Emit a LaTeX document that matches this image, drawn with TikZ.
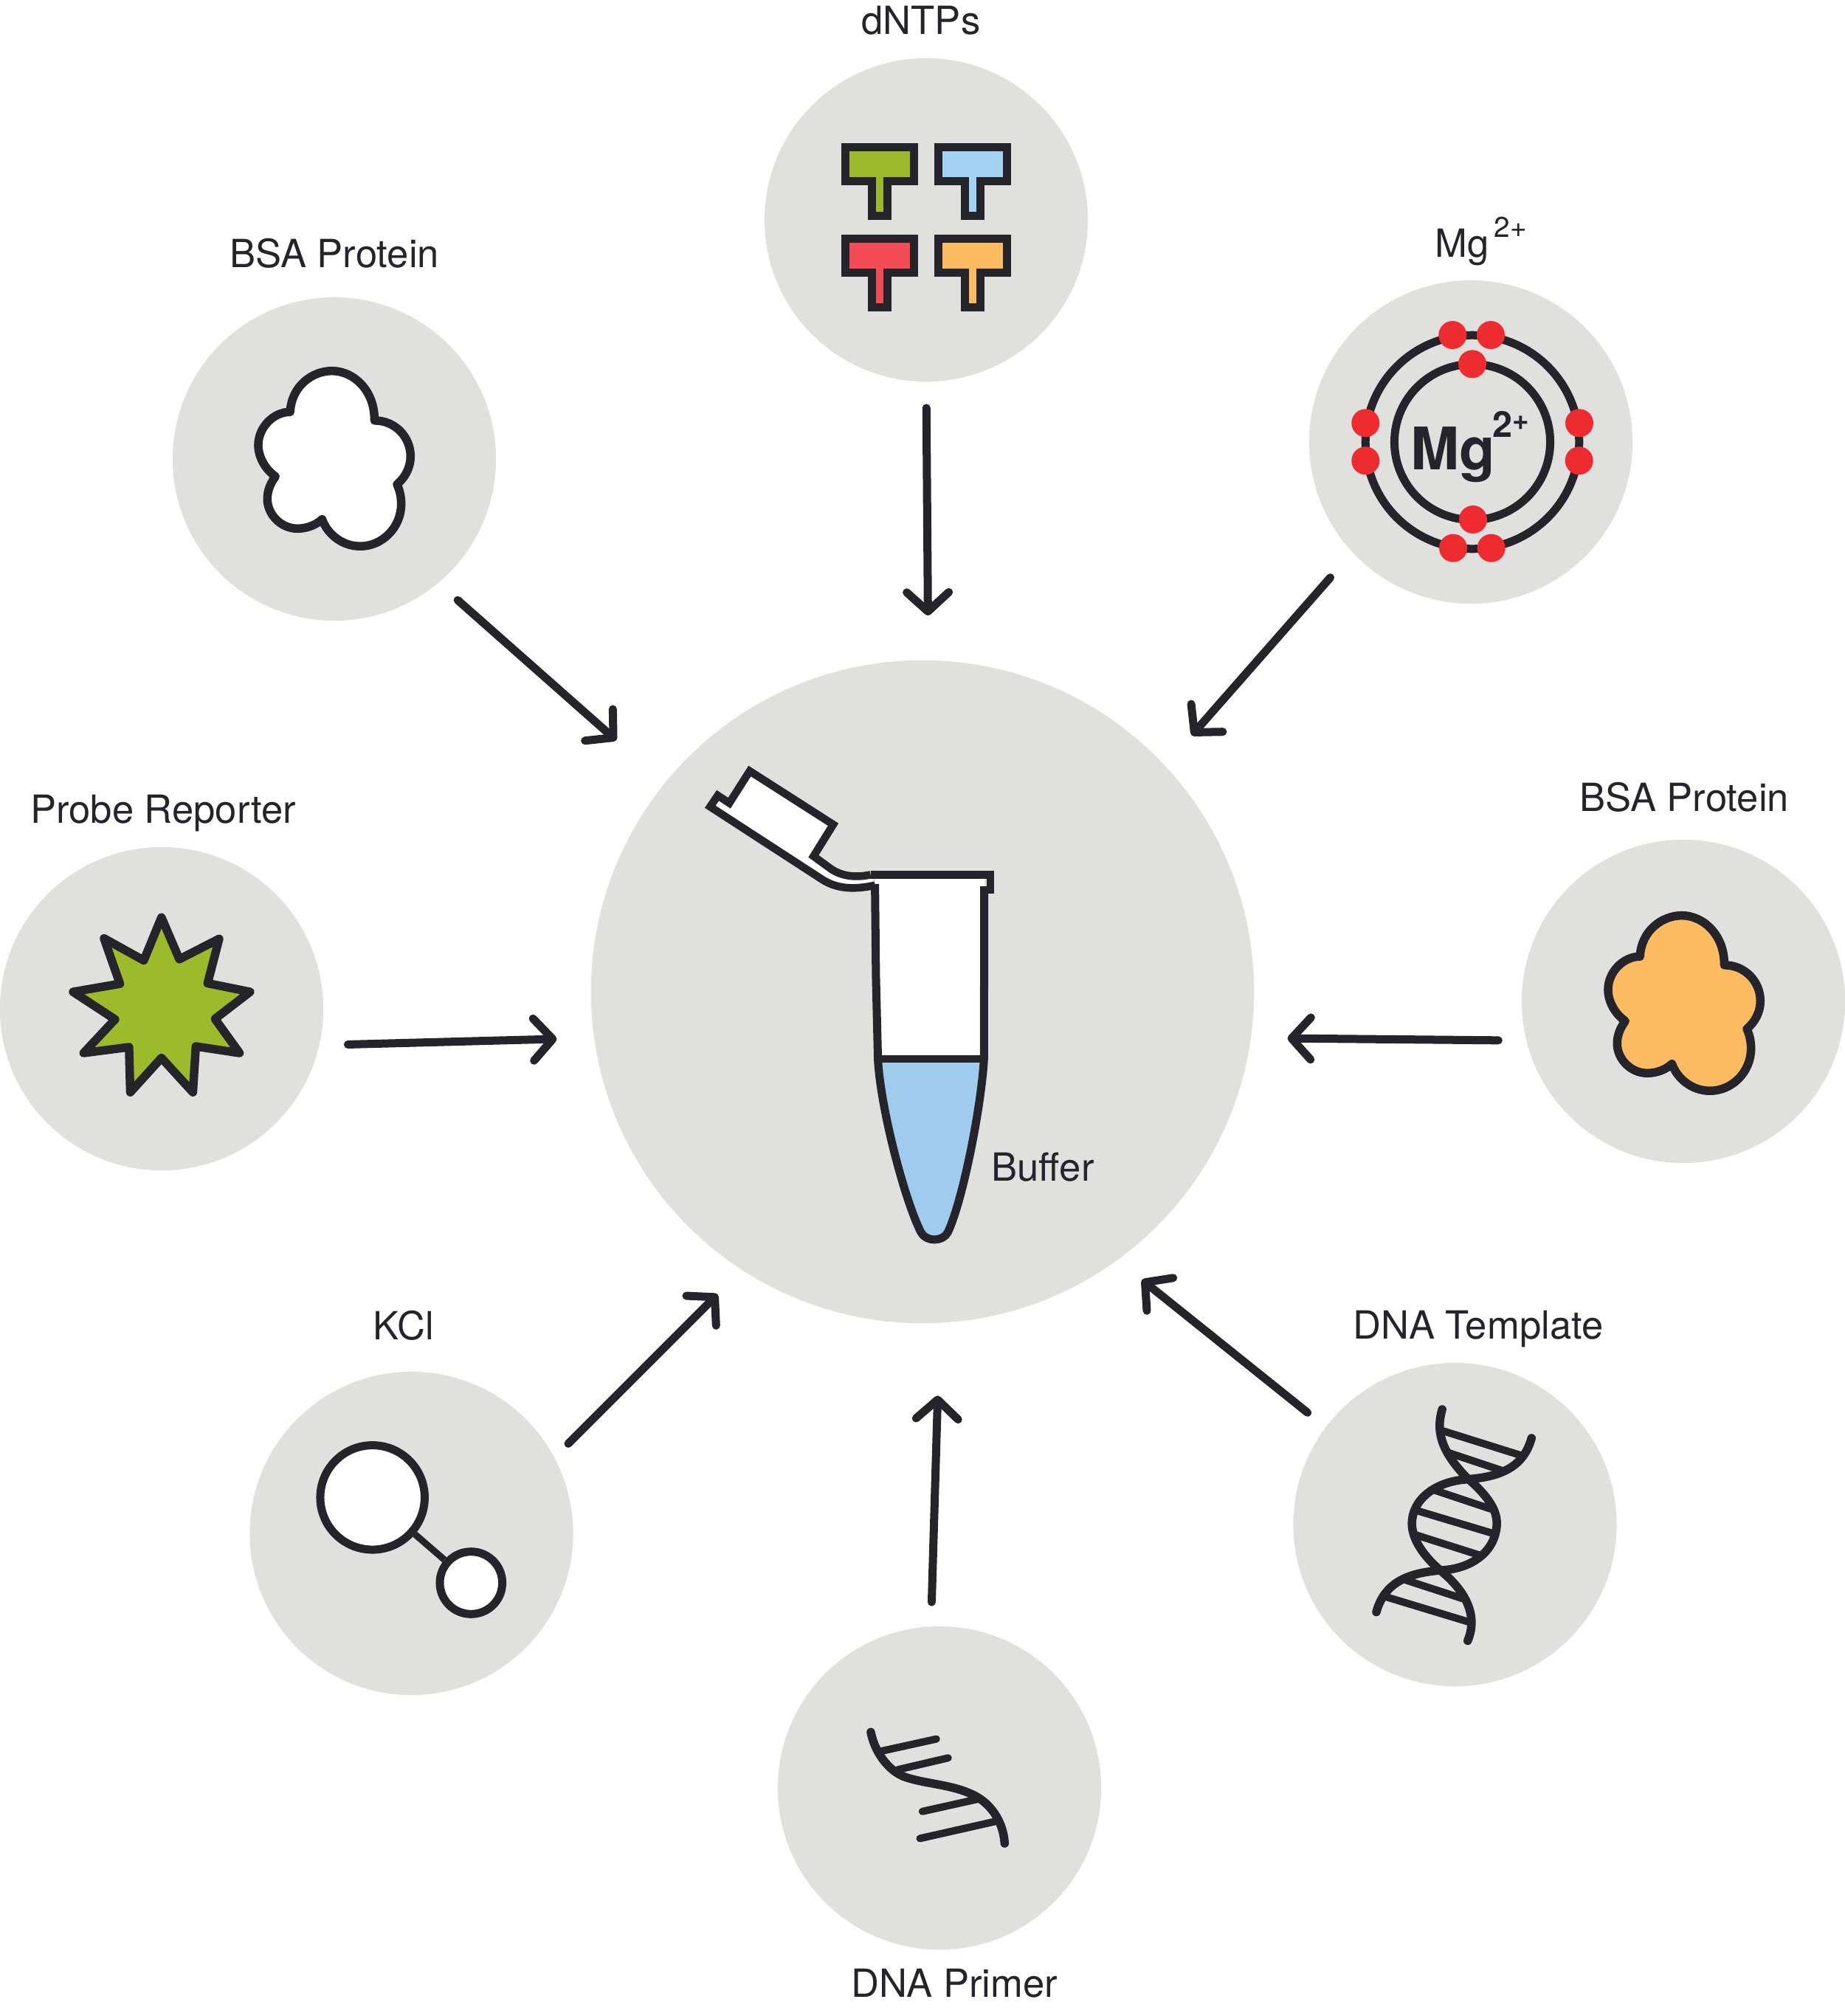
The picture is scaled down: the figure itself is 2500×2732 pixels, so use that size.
\documentclass[tikz,border=0pt]{standalone}
\usepackage{fontspec}
\setmainfont{TeX Gyre Heros}
\usetikzlibrary{arrows.meta}

\definecolor{discgray}{HTML}{E0E0DE}
\definecolor{ink}{HTML}{25242A}
\definecolor{leaf}{HTML}{9BBB2B}
\definecolor{sky}{HTML}{A2D3F2}
\definecolor{rose}{HTML}{F34C55}
\definecolor{amber}{HTML}{FDBB62}
\definecolor{spark}{HTML}{EE2B2F}
\definecolor{liquid}{HTML}{9FCBEC}

\begin{document}
\begin{tikzpicture}[
  x=0.01cm, y=-0.01cm,
  disc/.style={circle, fill=discgray, minimum size=4.38cm, inner sep=0pt},
  bigdisc/.style={circle, fill=discgray, minimum size=8.98cm, inner sep=0pt},
  lbl/.style={font=\fontsize{14.95}{18}\selectfont, text=ink, inner sep=0pt},
  sketch/.style={draw=ink, line width=0.115cm, line join=round, line cap=round},
  rung/.style={draw=ink, line width=0.1cm, line cap=round},
  feed/.style={draw=ink, line width=0.11cm, line cap=round,
               -{Straight Barb[round, length=0.26cm, width=0.57cm]}},
  crop/.style={x=0.003333cm, y=-0.003333cm},
  tubecrop/.style={x=0.003333cm, y=-0.004464cm}]

  \useasboundingbox (0,0) rectangle (2500,2732);

  % Discs
  \node[bigdisc] (tube) at (1250,1344) {};
  \node[disc] (dntps) at (1255,298) {};
  \node[disc] (bsaL) at (453,622) {};
  \node[disc] (mgion) at (1993,599) {};
  \node[disc] (probe) at (219,1367) {};
  \node[disc] (bsaR) at (2281,1357) {};
  \node[disc] (kcl) at (557.5,2078) {};
  \node[disc] (template) at (1971.5,2066) {};
  \node[disc] (primer) at (1273,2423) {};

  % Labels
  \node[lbl] (dntpslbl) at (1248,28) {dNTPs};
  \node[lbl] (bsaLlbl) at (453,343) {BSA Protein};
  \node[lbl, anchor=base west] (mglbl) at (1944,348) {Mg};
  \node[lbl, anchor=base west, font=\fontsize{11}{12}\selectfont] (mgsuplbl) at (2024,321) {2+};
  \node[lbl] (probelbl) at (221,1102) {Probe Reporter};
  \node[lbl] (bsaRlbl) at (2282,1080) {BSA Protein};
  \node[lbl] (bufferlbl) at (1413,1582) {Buffer};
  \node[lbl] (kcllbl) at (547,1796) {KCl};
  \node[lbl] (templatelbl) at (2003,1801) {DNA Template};
  \node[lbl] (primerlbl) at (1293,2688) {DNA Primer};

  % Arrows: source/angle/gap/tube angle/gap
  \foreach \src/\aa/\ga/\ab/\gb in {
      dntps/-90/35/89.5/60, bsaL/-50.4/34.5/141.4/87, mgion/223/44.9/43.1/54,
      probe/-13.7/38.2/188.7/50, bsaR/194.9/37.4/-8.5/49, kcl/28.7/26/237.9/46,
      template/143.5/31/-54.2/42, primer/93.3/32.4/-87.7/98}
    \draw[feed, shorten <=\ga*0.01cm, shorten >=\gb*0.01cm] (\src.\aa) -- (tube.\ab);

  % dNTPs
  \foreach \tx/\ty/\tc in {0/0/leaf, 126/0/sky, 0/124/rose, 126/124/amber}
    \draw[draw=ink, line width=0.11cm, miter limit=10, fill=\tc, shift={(\tx,\ty)}]
      (1145.5,199.5) -- (1238.5,199.5) -- (1238.5,245.5) -- (1202.5,245.5)
      -- (1202.5,292.5) -- (1181.5,292.5) -- (1181.5,245.5) -- (1145.5,245.5) -- cycle;

  % Protein blobs
  \def\blob{(220,235) .. controls (225,130) and (310,68) .. (390,68)
    .. controls (480,68) and (565,150) .. (563,270)
    .. controls (650,270) and (710,340) .. (710,415)
    .. controls (710,460) and (690,500) .. (655,530)
    .. controls (665,552) and (672,578) .. (672,610)
    .. controls (672,705) and (595,782) .. (505,782)
    .. controls (430,782) and (370,730) .. (350,672)
    .. controls (320,700) and (280,710) .. (250,710)
    .. controls (180,710) and (127,650) .. (127,590)
    .. controls (127,555) and (140,525) .. (160,498)
    .. controls (120,470) and (90,420) .. (90,370)
    .. controls (90,300) and (150,235) .. (220,235) -- cycle}
  \begin{scope}[shift={(320,480)}, crop]
    \filldraw[sketch, fill=white] \blob;
  \end{scope}
  \begin{scope}[shift={(2149,1218)}, crop]
    \filldraw[sketch, fill=amber] \blob;
  \end{scope}

  % Mg atom
  \draw[draw=ink, line width=0.11cm] (1995,599) circle [radius=1.055cm];
  \draw[draw=ink, line width=0.11cm] (1995,599) circle [radius=1.447cm];
  \foreach \ex/\ey in {1968.3/454, 2020/454, 1995/493.3, 1850.3/573.3, 1850.3/624.3,
      2140/573.3, 2139.7/624.3, 1996/704, 1969/742.7, 2020.7/742.7}
    \fill[spark] (\ex,\ey) circle [radius=0.19cm];
  \node[anchor=base west, inner sep=0pt, text=ink, font=\fontsize{22.6}{24}\selectfont\bfseries] (mgsym) at (1911,636) {Mg};
  \node[anchor=base west, inner sep=0pt, text=ink, font=\fontsize{13.8}{15}\selectfont\bfseries] (mgsup) at (2022,592) {2\raisebox{0.35ex}{\fontsize{11}{12}\selectfont+}};

  % Reporter star
  \begin{scope}[shift={(70,1210)}, crop]
    \filldraw[sketch, fill=leaf] (447,100) -- (520,270) -- (682,187) -- (635,368) -- (808,403)
      -- (665,513) -- (765,652) -- (587,625) -- (575,812) -- (447,672) -- (320,812) -- (315,628)
      -- (130,652) -- (258,515) -- (87,403) -- (278,370) -- (213,185) -- (375,275) -- cycle;
  \end{scope}

  % KCl
  \node[circle, draw=ink, fill=white, line width=0.11cm, minimum size=1.414cm, inner sep=0pt] (kclA) at (504.7,2029.3) {};
  \node[circle, draw=ink, fill=white, line width=0.11cm, minimum size=0.846cm, inner sep=0pt] (kclB) at (638.3,2145) {};
  \draw[draw=ink, line width=0.09cm] (kclA) -- (kclB);

  % Template helix
  \begin{scope}[shift={(1830,1880)}, crop]
    \draw[sketch] (373,90) .. controls (350,170) and (360,250) .. (470,365)
      .. controls (570,450) and (600,510) .. (595,565)
      .. controls (585,680) and (480,740) .. (370,745)
      .. controls (240,755) and (140,790) .. (105,915);
    \draw[sketch] (737,207) .. controls (705,320) and (620,365) .. (470,375)
      .. controls (340,385) and (250,460) .. (250,555)
      .. controls (250,620) and (300,690) .. (365,745)
      .. controls (470,830) and (520,930) .. (477,1032);
    \foreach \ra/\rb/\rc/\rd in {378/178/690/276, 395/265/620/340, 345/420/570/495,
        280/505/580/595, 262/600/530/685, 225/785/455/860, 150/855/480/955}
      \draw[rung] (\ra,\rb) -- (\rc,\rd);
  \end{scope}

  % Primer strand
  \begin{scope}[shift={(1140,2310)}, crop]
    \draw[sketch] (120,112) .. controls (135,190) and (190,270) .. (260,295)
      .. controls (340,322) and (440,325) .. (520,360)
      .. controls (610,395) and (660,480) .. (665,565);
    \foreach \ra/\rb/\rc/\rd in {160/190/387/140, 230/265/435/217, 555/385/330/435, 630/475/320/545}
      \draw[rung] (\ra,\rb) -- (\rc,\rd);
  \end{scope}

  % Tube
  \begin{scope}[shift={(930,1010)}, tubecrop]
    \filldraw[draw=ink, line width=0.105cm, line join=miter, fill=white]
      (768,424) .. controls (700,435) and (620,440) .. (550,405)
      -- (97,186) -- (128,152) -- (175,175) -- (258,78) -- (598,240) -- (518,336)
      -- (590,375) .. controls (640,400) and (700,400) .. (750,392);
    \fill[white] (768,392) rectangle (1213,950);
    \fill[liquid] (780,950) .. controls (790,1100) and (890,1380) .. (955,1475)
      .. controls (975,1505) and (1045,1505) .. (1065,1475)
      .. controls (1125,1380) and (1200,1100) .. (1212,950) -- cycle;
    \draw[draw=ink, line width=0.105cm, line join=miter] (750,392) -- (1238,392) -- (1238,438) -- (1197,438);
    \draw[draw=ink, line width=0.105cm] (780,950) -- (1212,950);
    \draw[draw=ink, line width=0.11cm, line join=round] (768,420) -- (772,700) -- (780,950)
      .. controls (790,1100) and (890,1380) .. (955,1475)
      .. controls (975,1505) and (1045,1505) .. (1065,1475)
      .. controls (1125,1380) and (1200,1100) .. (1212,950) -- (1213,432);
  \end{scope}

\end{tikzpicture}
\end{document}
